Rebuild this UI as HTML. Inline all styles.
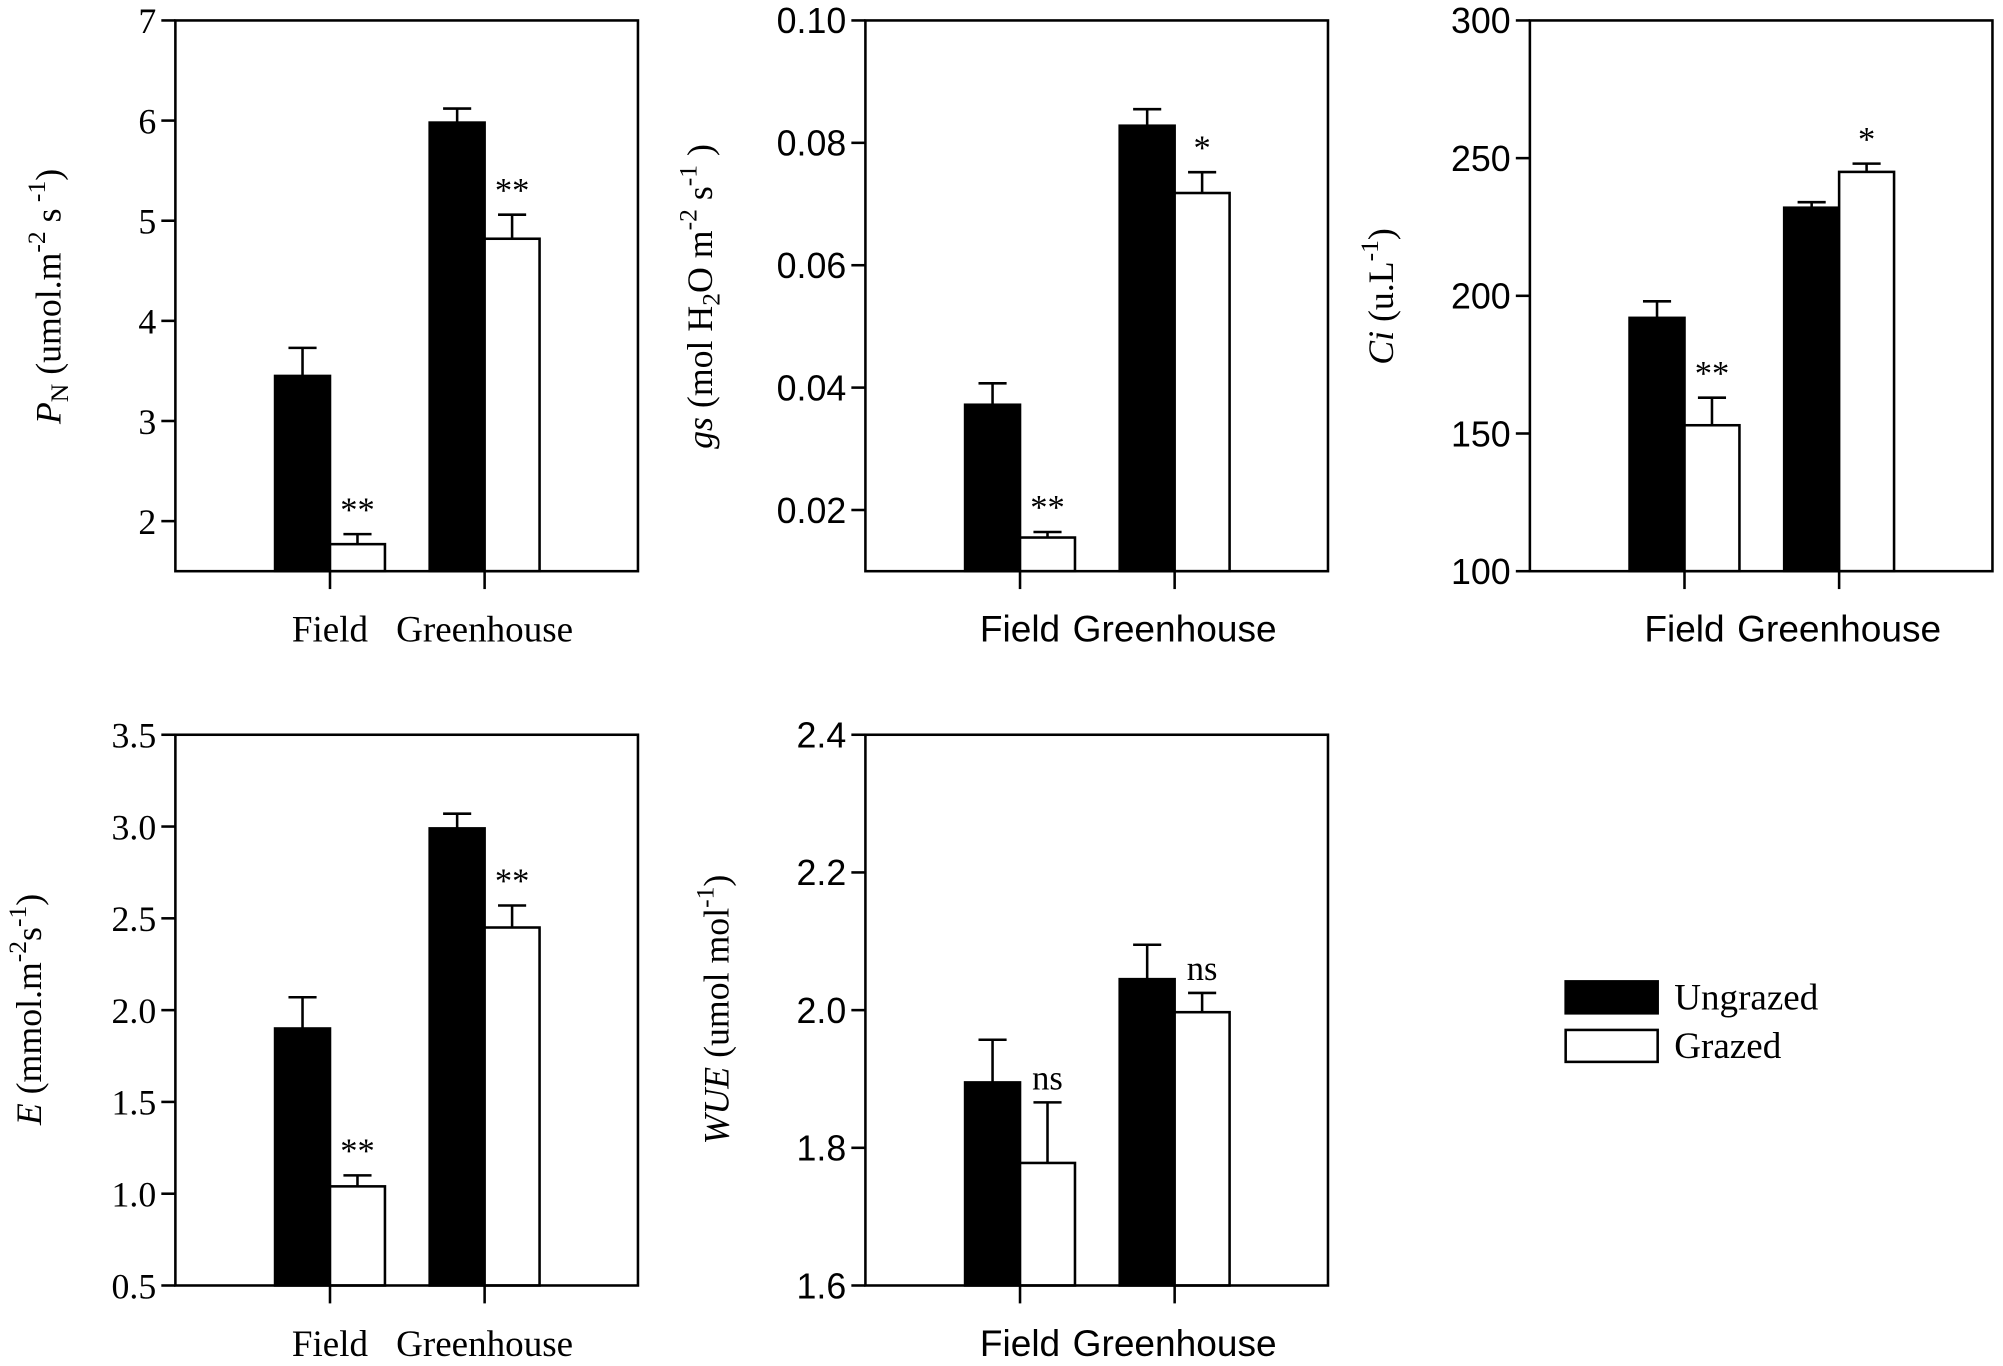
<!DOCTYPE html>
<html><head><meta charset="utf-8"><style>
html,body{margin:0;padding:0;background:#fff;}
svg{display:block;}
.serif{font-family:"Liberation Serif",serif;}
.sans{font-family:"Liberation Sans",sans-serif;}
</style></head><body>
<svg id="fig" width="2003" height="1366" viewBox="0 0 1567 1069" xmlns="http://www.w3.org/2000/svg">
<g>
<rect x="1225" y="768" width="72" height="25" fill="#000" stroke="#000" stroke-width="2"/>
<text class="serif" x="1310" y="790" font-size="29">Ungrazed</text>
<rect x="1225" y="806" width="72" height="25" fill="#fff" stroke="#000" stroke-width="2"/>
<text class="serif" x="1310" y="828" font-size="29">Grazed</text>
</g>
</svg>
<script>
const categories = ["Field", "Greenhouse"];
const pnUngrazed = [3.45, 5.98], pnUngrazedErr = [0.28, 0.14];
const pnGrazed = [1.77, 4.82], pnGrazedErr = [0.10, 0.24];
const pnSig = ["**", "**"];
const pnTicks = [2, 3, 4, 5, 6, 7];
const gsUngrazed = [0.0372, 0.0828], gsUngrazedErr = [0.0035, 0.0027];
const gsGrazed = [0.0155, 0.0718], gsGrazedErr = [0.0009, 0.0034];
const gsSig = ["**", "*"];
const gsTicks = [0.02, 0.04, 0.06, 0.08, 0.10];
const ciUngrazed = [192, 232], ciUngrazedErr = [6, 2];
const ciGrazed = [153, 245], ciGrazedErr = [10, 3];
const ciSig = ["**", "*"];
const ciTicks = [100, 150, 200, 250, 300];
const eUngrazed = [1.90, 2.99], eUngrazedErr = [0.17, 0.08];
const eGrazed = [1.04, 2.45], eGrazedErr = [0.06, 0.12];
const eSig = ["**", "**"];
const eTicks = [0.5, 1.0, 1.5, 2.0, 2.5, 3.0, 3.5];
const wueUngrazed = [1.895, 2.045], wueUngrazedErr = [0.062, 0.050];
const wueGrazed = [1.778, 1.997], wueGrazedErr = [0.088, 0.028];
const wueSig = ["ns", "ns"];
const wueTicks = [1.6, 1.8, 2.0, 2.2, 2.4];

const NS = "http://www.w3.org/2000/svg";
const svg = document.getElementById("fig");
function mk(tag, attrs, parent) {
  const e = document.createElementNS(NS, tag);
  for (const k in attrs) e.setAttribute(k, attrs[k]);
  parent.appendChild(e);
  return e;
}
const panels = [
  {id:"pn", x0:137, y0:16, min:1.5, max:7, ticks:pnTicks, dec:0, u:pnUngrazed, ue:pnUngrazedErr, g:pnGrazed, ge:pnGrazedErr, sig:pnSig, tickFont:"serif", catFont:"serif", ylab:'<tspan font-style="italic">P</tspan><tspan font-size="20" dy="6">N</tspan><tspan dy="-6">  (umol.m</tspan><tspan font-size="20" dy="-12">-2</tspan><tspan dy="12"> s</tspan><tspan font-size="20" dy="-12"> -1</tspan><tspan dy="12">)</tspan>', lx:47, ly:232},
  {id:"gs", x0:677, y0:16, min:0.01, max:0.10, ticks:gsTicks, dec:2, u:gsUngrazed, ue:gsUngrazedErr, g:gsGrazed, ge:gsGrazedErr, sig:gsSig, tickFont:"sans", catFont:"sans", ylab:'<tspan font-style="italic">gs</tspan><tspan> (mol H</tspan><tspan font-size="20" dy="6">2</tspan><tspan dy="-6">O m</tspan><tspan font-size="20" dy="-12">-2</tspan><tspan dy="12"> s</tspan><tspan font-size="20" dy="-12">-1</tspan><tspan dy="12"> )</tspan>', lx:557, ly:232},
  {id:"ci", x0:1197, y0:16, min:100, max:300, ticks:ciTicks, dec:0, u:ciUngrazed, ue:ciUngrazedErr, g:ciGrazed, ge:ciGrazedErr, sig:ciSig, tickFont:"sans", catFont:"sans", ylab:'<tspan font-style="italic">Ci</tspan><tspan> (u.L</tspan><tspan font-size="20" dy="-12">-1</tspan><tspan dy="12">)</tspan>', lx:1090, ly:232},
  {id:"e", x0:137, y0:575, min:0.5, max:3.5, ticks:eTicks, dec:1, u:eUngrazed, ue:eUngrazedErr, g:eGrazed, ge:eGrazedErr, sig:eSig, tickFont:"serif", catFont:"serif", ylab:'<tspan font-style="italic">E</tspan><tspan> (mmol.m</tspan><tspan font-size="20" dy="-12">-2</tspan><tspan dy="12">s</tspan><tspan font-size="20" dy="-12">-1</tspan><tspan dy="12">)</tspan>', lx:32, ly:790},
  {id:"wue", x0:677, y0:575, min:1.6, max:2.4, ticks:wueTicks, dec:1, u:wueUngrazed, ue:wueUngrazedErr, g:wueGrazed, ge:wueGrazedErr, sig:wueSig, tickFont:"sans", catFont:"sans", ylab:'<tspan font-style="italic">WUE</tspan><tspan> (umol mol</tspan><tspan font-size="20" dy="-12">-1</tspan><tspan dy="12">)</tspan>', lx:570, ly:790}
];
const W = 362, H = 431;
panels.forEach(p => {
  const g = mk("g", {}, svg);
  
  
  const y = v => p.y0 + H - (v - p.min) / (p.max - p.min) * H;
  const groupCenters = [p.x0 + 121, p.x0 + 242];
  const bw = 43;
  for (let i = 0; i < categories.length; i++) {
    const cx = groupCenters[i];
    const series = [[p.u[i], p.ue[i], "#000", cx - bw, "ungrazed"], [p.g[i], p.ge[i], "#fff", cx, "grazed"]];
    series.forEach(s => {
      const top = y(s[0]), ex = s[3] + bw / 2, et = y(s[0] + s[1]);
      const eb = mk("line", {x1:ex, x2:ex, y1:top, y2:et, stroke:"#000", "stroke-width":2}, g);
      
      
      const cap = mk("line", {x1:ex - 11, x2:ex + 11, y1:et, y2:et, stroke:"#000", "stroke-width":2}, g);
      
      
      const r = mk("rect", {x:s[3], y:top, width:bw, height:(p.y0 + H) - top, fill:s[2], stroke:"#000", "stroke-width":2}, g);
      
      
    });
    const sg = mk("text", {x:cx + bw / 2, y:y(p.g[i] + p.ge[i]) - 10, "text-anchor":"middle", "font-size":27, class:"serif"}, g);
    sg.textContent = p.sig[i];
    
    
    const xt = mk("line", {x1:cx, x2:cx, y1:p.y0 + H, y2:p.y0 + H + 14, stroke:"#000", "stroke-width":2}, g);
    
    
    const cl = mk("text", {x:cx, y:p.y0 + H + 55, "text-anchor":"middle", "font-size":29, class:p.catFont}, g);
    cl.textContent = categories[i];
    
    
  }
  const fr = mk("rect", {x:p.x0, y:p.y0, width:W, height:H, fill:"none", stroke:"#000", "stroke-width":2}, g);
  
  
  p.ticks.forEach(t => {
    const ty = y(t);
    const tl = mk("line", {x1:p.x0 - 11, x2:p.x0, y1:ty, y2:ty, stroke:"#000", "stroke-width":2}, g);
    
    
    const tx = mk("text", {x:p.x0 - 15, y:ty + 10, "text-anchor":"end", "font-size":28, class:p.tickFont}, g);
    tx.textContent = t.toFixed(p.dec);
    
    
  });
  const yl = mk("text", {x:0, y:0, "text-anchor":"middle", "font-size":28, class:"serif", transform:"translate(" + p.lx + "," + p.ly + ") rotate(-90)"}, g);
  yl.innerHTML = p.ylab;
  
  
});
</script>
</body></html>
